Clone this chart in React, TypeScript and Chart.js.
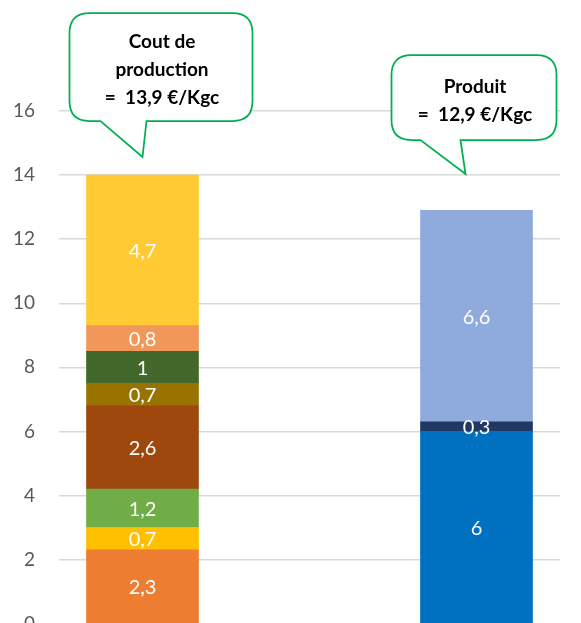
import React, { useEffect, useRef } from "react";
import { Chart, registerables } from "chart.js";

Chart.register(...registerables);

const categories = ["Cout de production", "", "Produit"];
const costSegments = [2.3, 0.7, 1.2, 2.6, 0.7, 1, 0.8, 4.7];
const costColors = ["#ED7D31", "#FFC000", "#70AD47", "#9E480E", "#997300", "#43682B", "#F1975A", "#FFCA33"];
const productSegments = [6, 0.3, 6.6];
const productColors = ["#0070C0", "#203864", "#8FAADC"];
const yTicks = [0, 2, 4, 6, 8, 10, 12, 14, 16];
const costCallout = ["Cout de", "production", "=  13,9 €/Kgc"];
const productCallout = ["Produit", "=  12,9 €/Kgc"];

const FONT = "Lato, 'Open Sans', sans-serif";

const fmt = (v: number) => String(v).replace(".", ",");

const valueLabels = {
  id: "valueLabels",
  afterDatasetsDraw(chart: any) {
    const ctx = chart.ctx;
    ctx.save();
    ctx.fillStyle = "#FFFFFF";
    ctx.font = `20px ${FONT}`;
    ctx.textAlign = "center";
    ctx.textBaseline = "middle";
    chart.data.datasets.forEach((ds: any, di: number) => {
      const meta = chart.getDatasetMeta(di);
      meta.data.forEach((el: any, i: number) => {
        const v = ds.data[i];
        if (v === null || v === undefined) return;
        ctx.fillText(fmt(v), el.x, (el.y + el.base) / 2 + 1);
      });
    });
    ctx.restore();
  },
};

function drawCallout(ctx: any, box: any, tail: any, lines: string[]) {
  const { l, t, r, b } = box;
  const rad = 20;
  ctx.beginPath();
  ctx.moveTo(l + rad, t);
  ctx.lineTo(r - rad, t);
  ctx.quadraticCurveTo(r, t, r, t + rad);
  ctx.lineTo(r, b - rad);
  ctx.quadraticCurveTo(r, b, r - rad, b);
  ctx.lineTo(tail.b2, b);
  ctx.lineTo(tail.tx, tail.ty);
  ctx.lineTo(tail.b1, b);
  ctx.lineTo(l + rad, b);
  ctx.quadraticCurveTo(l, b, l, b - rad);
  ctx.lineTo(l, t + rad);
  ctx.quadraticCurveTo(l, t, l + rad, t);
  ctx.closePath();
  ctx.fillStyle = "#FFFFFF";
  ctx.fill();
  ctx.strokeStyle = "#00B050";
  ctx.lineWidth = 1.75;
  ctx.stroke();
  ctx.fillStyle = "#000000";
  ctx.font = `bold 19px ${FONT}`;
  ctx.textAlign = "center";
  ctx.textBaseline = "middle";
  const lh = 28;
  const cx = (l + r) / 2 + 1;
  const cy = (t + b) / 2 + 3;
  const start = cy - ((lines.length - 1) * lh) / 2;
  lines.forEach((s, i) => ctx.fillText(s, cx, start + i * lh));
}

const callouts = {
  id: "callouts",
  afterDraw(chart: any) {
    const ctx = chart.ctx;
    const xs = chart.scales.x;
    const c0 = xs.getPixelForValue(0);
    const c2 = xs.getPixelForValue(2);
    ctx.save();
    drawCallout(
      ctx,
      { l: c0 - 73, t: 13, r: c0 + 110, b: 121 },
      { b1: c0 - 42, b2: c0 + 4, tx: c0, ty: 157 },
      costCallout
    );
    drawCallout(
      ctx,
      { l: c2 - 85, t: 55, r: c2 + 80, b: 140 },
      { b1: c2 - 56, b2: c2 - 16, tx: c2 - 11, ty: 174 },
      productCallout
    );
    ctx.restore();
  },
};

export default function App() {
  const ref = useRef<HTMLCanvasElement>(null);
  useEffect(() => {
    if (!ref.current) return;
    const datasets = [
      ...costSegments.map((v, i) => ({
        label: `c${i}`,
        data: [v, null, null],
        backgroundColor: costColors[i],
        stack: "s",
        barThickness: 112,
      })),
      ...productSegments.map((v, i) => ({
        label: `p${i}`,
        data: [null, null, v],
        backgroundColor: productColors[i],
        stack: "s",
        barThickness: 112,
      })),
    ];
    const chart = new Chart(ref.current, {
      type: "bar",
      data: { labels: categories, datasets: datasets as any },
      options: {
        animation: false,
        responsive: false,
        devicePixelRatio: 1,
        layout: { padding: { top: 63, right: 21, bottom: 20, left: 0 } },
        plugins: { legend: { display: false }, tooltip: { enabled: false } },
        scales: {
          x: { display: false, stacked: true },
          y: {
            stacked: true,
            min: 0,
            max: 17.5,
            border: { display: false },
            grid: { color: "#D9D9D9", lineWidth: 1.5, drawTicks: false },
            ticks: {
              stepSize: 2,
              padding: 24,
              color: "#595959",
              font: { size: 19, family: FONT },
            },
            afterBuildTicks: (s: any) => {
              s.ticks = yTicks.map((v) => ({ value: v }));
            },
            afterFit: (s: any) => {
              s.width = 59;
            },
          },
        },
      },
      plugins: [valueLabels, callouts],
    });
    return () => chart.destroy();
  }, []);
  return (
    <div style={{ position: "fixed", top: 0, left: 0, width: 581, height: 623, overflow: "hidden", background: "#fff" }}>
      <canvas ref={ref} width={581} height={659} style={{ display: "block" }} />
    </div>
  );
}
